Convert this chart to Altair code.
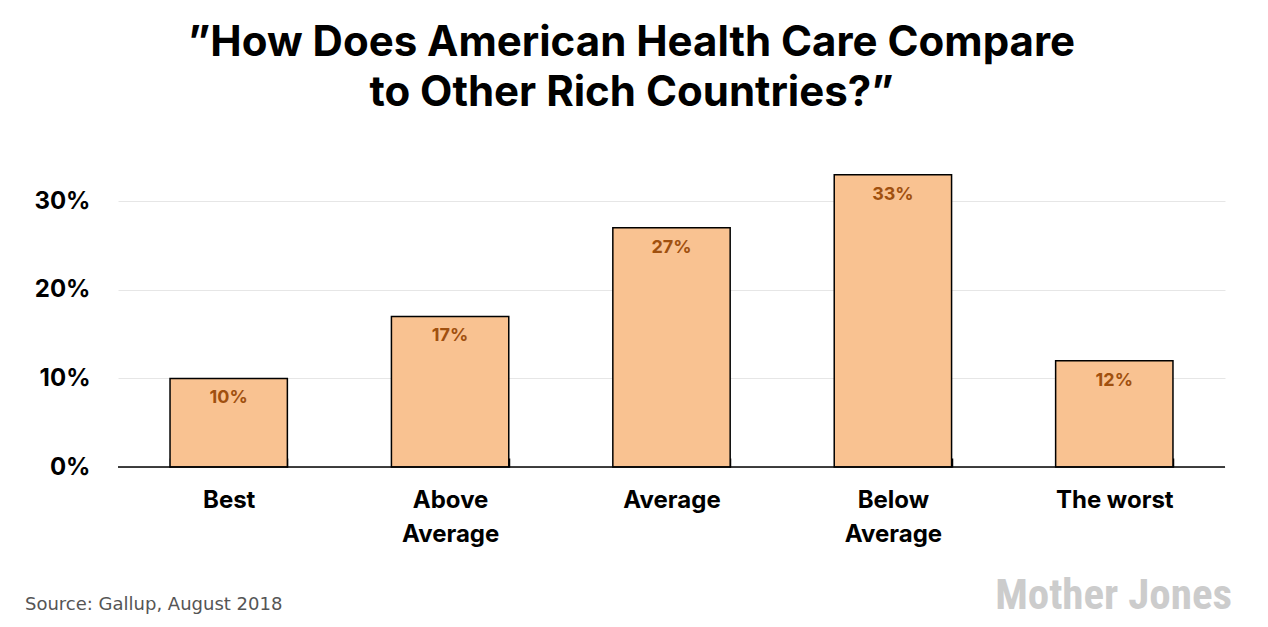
import altair as alt
import pandas as pd

categories = ["Best", "Above Average", "Average", "Below Average", "The worst"]
values = [10, 17, 27, 33, 12]
y_ticks = [0, 10, 20, 30]

title_lines = ["\u201dHow Does American Health Care Compare", "to Other Rich Countries?\u201d"]
source_text = "Source: Gallup, August 2018"
logo_text = "Mother Jones"

df = pd.DataFrame({"cat": categories, "val": values})
df["lbl"] = df["val"].astype(str) + "%"

W, H = 1107, 310
FONT = "Inter"

x_enc = alt.X(
    "cat:N",
    sort=categories,
    scale=alt.Scale(paddingInner=0.47, paddingOuter=0.235),
    axis=alt.Axis(
        title=None,
        domain=False,
        ticks=True,
        tickBand="extent",
        tickSize=9,
        tickWidth=1.5,
        tickColor="black",
        offset=-9,
        labelPadding=21,
        labelAngle=0,
        labelFont=FONT,
        labelFontWeight="bold",
        labelFontSize=24,
        labelColor="black",
        labelLineHeight=34,
        labelExpr="indexof(datum.label, ' Average') > 0 ? split(datum.label, ' ') : datum.label",
    ),
)
y_enc = alt.Y(
    "val:Q",
    scale=alt.Scale(domain=[0, 35]),
    axis=alt.Axis(
        title=None,
        values=y_ticks,
        domain=False,
        ticks=False,
        grid=True,
        gridColor="#e6e6e6",
        gridWidth=1,
        labelPadding=28,
        labelFont=FONT,
        labelFontWeight="bold",
        labelFontSize=24,
        labelColor="black",
        labelExpr="datum.value + '%'",
    ),
)

bars = alt.Chart(df).mark_bar(
    color="#f9c291", stroke="black", strokeWidth=1.5
).encode(x=x_enc, y=y_enc)

labels = alt.Chart(df).mark_text(
    baseline="top", dy=11, font=FONT, fontWeight="bold", fontSize=18, color="#a0500f"
).encode(x=alt.X("cat:N", sort=categories), y="val:Q", text="lbl:N")

baseline = alt.Chart(pd.DataFrame({"z": [0]})).mark_rule(
    color="black", strokeWidth=1.5
).encode(y="z:Q")

source = alt.Chart(pd.DataFrame({"t": [source_text]})).mark_text(
    align="left", baseline="alphabetic", font="DejaVu Sans", fontSize=18, color="#555555"
).encode(x=alt.value(-93), y=alt.value(453), text="t:N")

logo = alt.Chart(pd.DataFrame({"t": [logo_text]})).mark_text(
    align="right", baseline="alphabetic",
    font="Roboto Condensed, Liberation Sans Narrow, DejaVu Sans Condensed, sans-serif",
    fontWeight="bold", fontSize=43, color="#cccccc"
).encode(x=alt.value(1114), y=alt.value(452), text="t:N")

chart = alt.layer(bars, baseline, labels, source, logo).properties(
    width=W,
    height=H,
    title=alt.TitleParams(
        text=title_lines,
        font=FONT,
        fontWeight="bold",
        fontSize=42,
        lineHeight=50,
        color="black",
        anchor="middle",
        dx=-40,
        offset=42,
    ),
    autosize=alt.AutoSizeParams(type="none"),
    padding={"left": 110, "top": 149, "right": 35, "bottom": 152},
).configure(background="white").configure_view(strokeWidth=0, stroke=None)

chart.save("out.html", embed_options={"renderer": "svg", "actions": False})
